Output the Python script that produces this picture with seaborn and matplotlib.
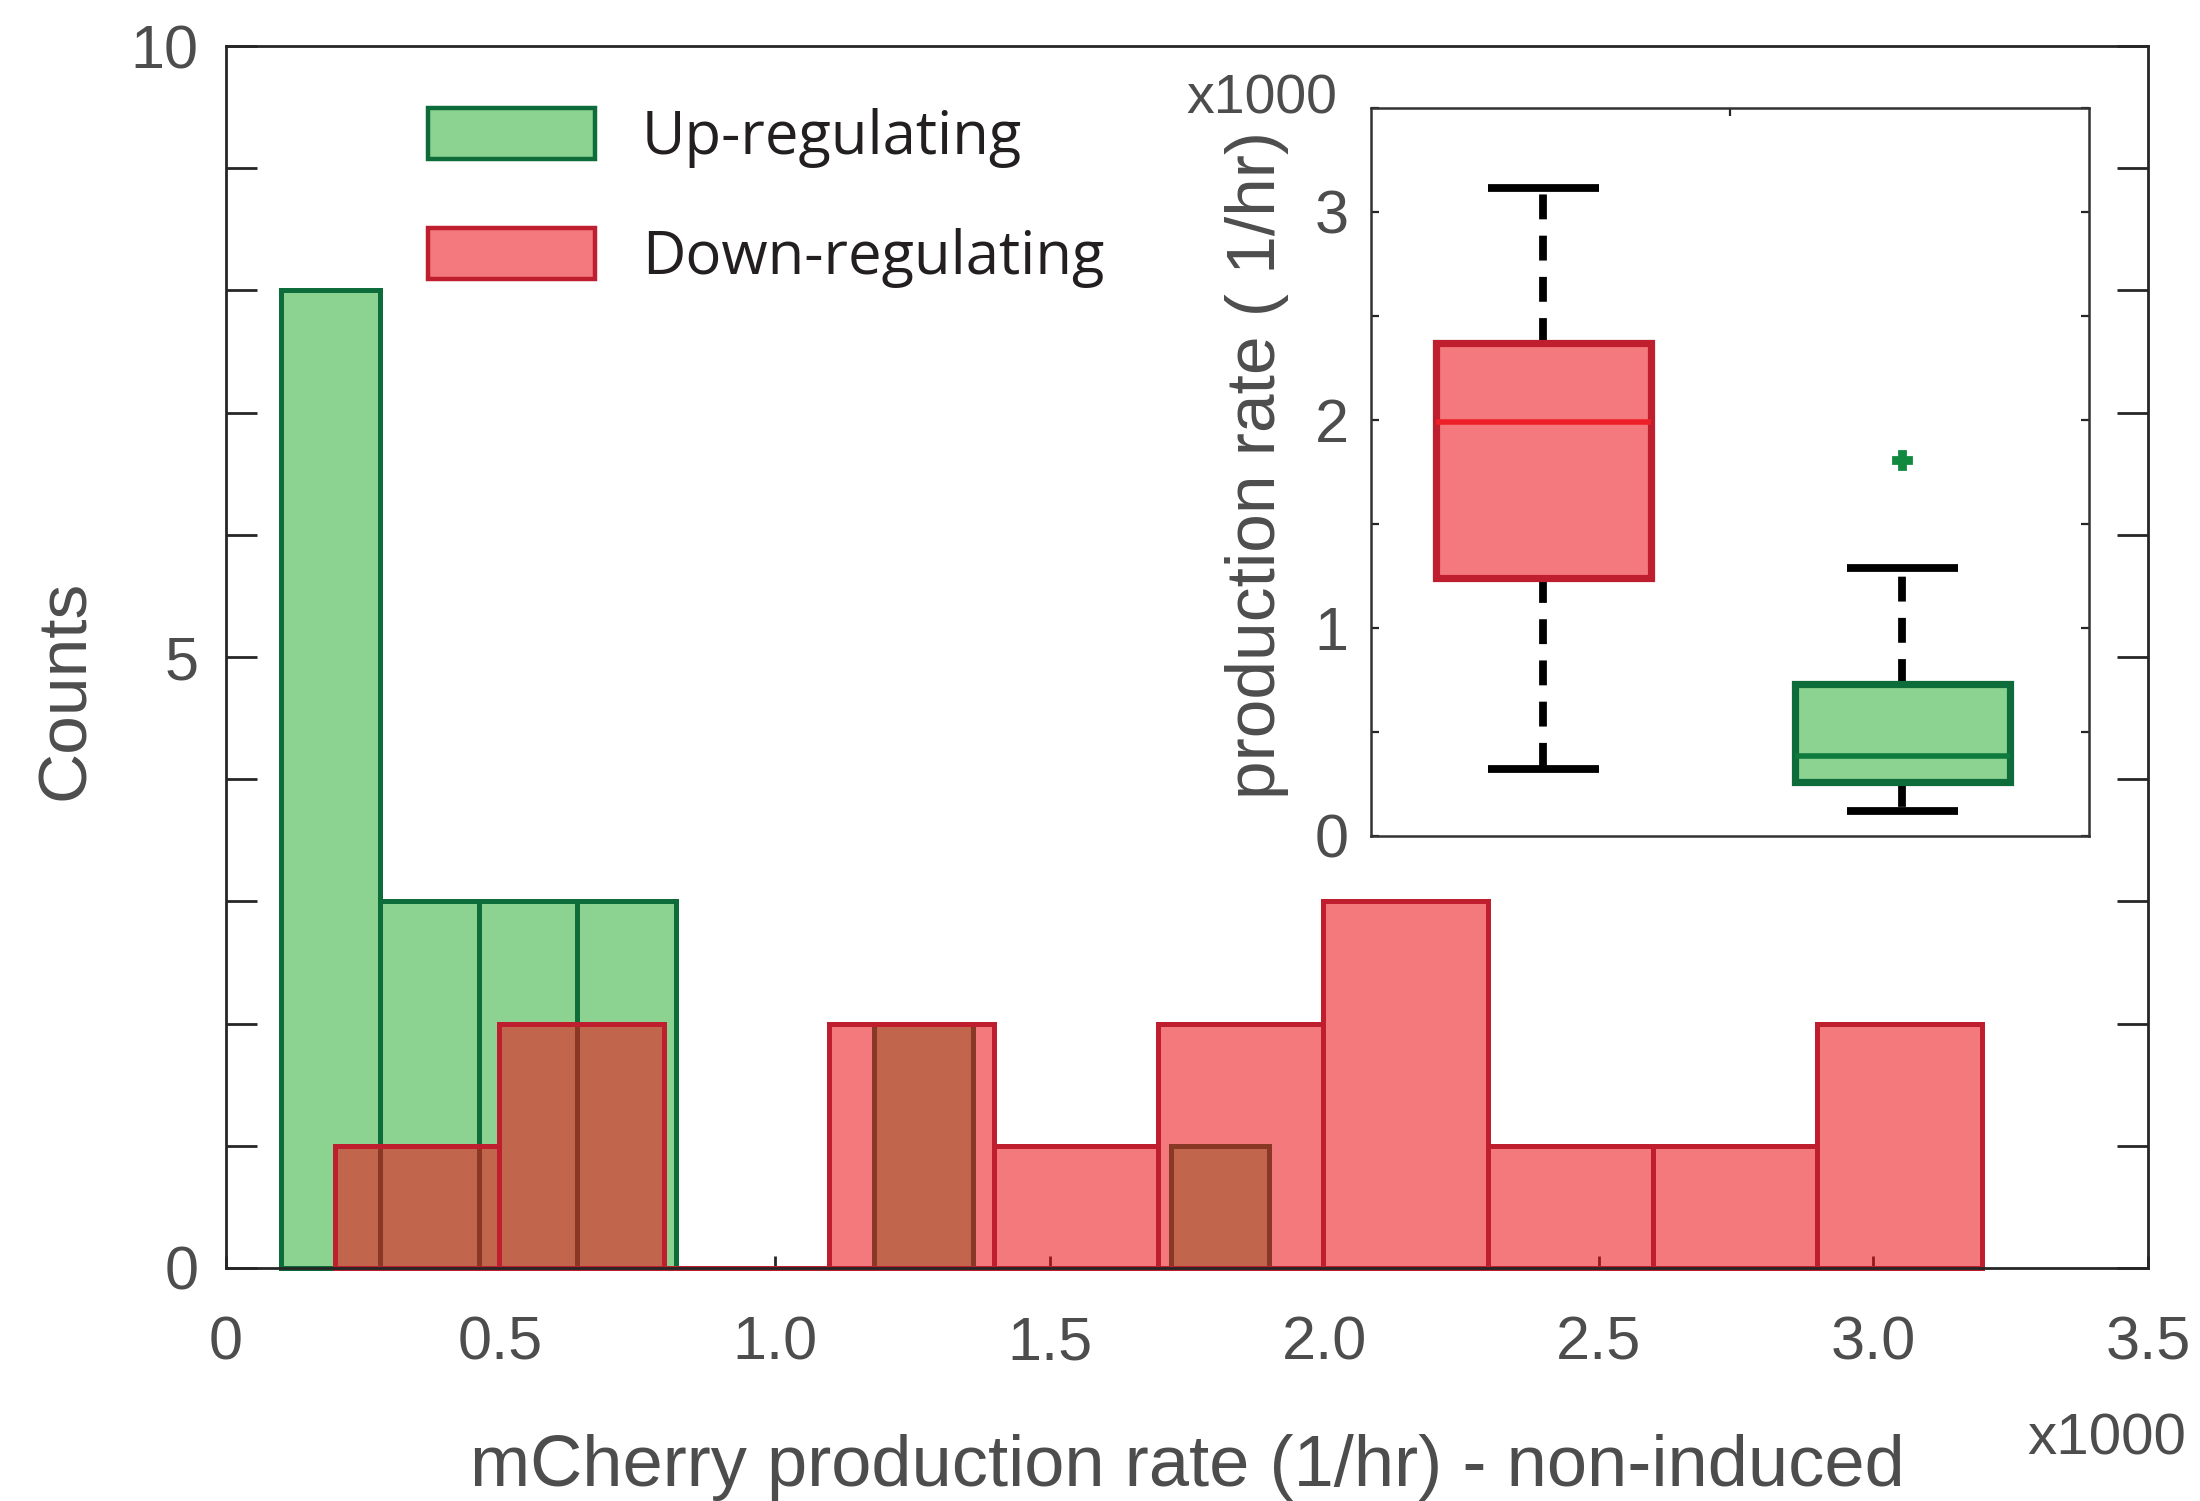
import numpy as np
import matplotlib
matplotlib.use("Agg")
import matplotlib.pyplot as plt
import seaborn as sns
from matplotlib.patches import Patch

# ---- histogram data: bin edges (1/hr) and counts ----
up_edges = [100, 280, 460, 640, 820, 1000, 1180, 1360, 1540, 1720, 1900]
up_counts = [8, 3, 3, 3, 0, 0, 2, 0, 0, 1]
down_edges = [198, 498, 798, 1098, 1398, 1698, 1998, 2298, 2598, 2898, 3198]
down_counts = [1, 2, 0, 2, 1, 2, 3, 1, 1, 2]

x_ticks = [0, 500, 1000, 1500, 2000, 2500, 3000, 3500]
x_ticklabels = ["0", "0.5", "1.0", "1.5", "2.0", "2.5", "3.0", "3.5"]
y_ticklabels = ["0", "", "", "", "", "5", "", "", "", "", "10"]

# ---- box summaries (x1000, 1/hr) ----
box_names = ["Down-regulating", "Up-regulating"]
box_whislo = [0.32, 0.12]
box_q1 = [1.24, 0.26]
box_med = [1.99, 0.385]
box_q3 = [2.37, 0.73]
box_whishi = [3.115, 1.29]
box_fliers = [[], [1.81]]

# ---- colours ----
green_fill = "#8CD392"
green_edge = "#0E6B3A"
red_fill_alpha = (236 / 255, 16 / 255, 24 / 255, 0.56)
red_fill = "#F4797E"
red_edge = "#BE1E2D"
red_median = "#EE2027"
green_median = "#0F7A3E"
label_grey = "#4D4D4D"
axis_dark = "#262626"

sns.set_theme(style="ticks")
plt.rcParams["font.family"] = ["Liberation Sans", "DejaVu Sans"]
plt.rcParams["axes.edgecolor"] = axis_dark

fig = plt.figure(figsize=(11, 7.505), dpi=200)
ax = fig.add_axes([0.10273, 0.15523, 0.87364, 0.81412])


def draw_hist(edges, counts, face, edge, lw):
    centers = [(a + b) / 2 for a, b in zip(edges[:-1], edges[1:])]
    n0 = len(ax.patches)
    sns.histplot(x=centers, weights=counts, bins=edges, ax=ax, stat="count")
    for p in ax.patches[n0:]:
        p.set_facecolor(face)
        p.set_edgecolor(edge)
        p.set_linewidth(lw)
        p.set_alpha(None)
        p.set_clip_on(False)


draw_hist(up_edges, up_counts, green_fill, green_edge, 1.8)
draw_hist(down_edges, down_counts, red_fill_alpha, red_edge, 1.8)

ax.set_xlim(0, 3500)
ax.set_ylim(0, 10)
ax.set_xticks(x_ticks)
ax.set_xticklabels(x_ticklabels)
ax.set_yticks(range(11))
ax.set_yticklabels(y_ticklabels)
ax.tick_params(axis="y", which="both", direction="in", length=11, width=1.0,
               left=True, right=True, color=axis_dark, labelsize=22,
               labelcolor=label_grey, pad=10)
ax.tick_params(axis="x", direction="in", length=4.3, width=1.0, bottom=True,
               top=False, color=axis_dark, labelsize=22, labelcolor=label_grey,
               pad=17)
for s in ax.spines.values():
    s.set_visible(True)
    s.set_linewidth(1.0)
    s.set_color(axis_dark)

ax.set_xlabel("mCherry production rate (1/hr) - non-induced", fontsize=26,
              color=label_grey, va="center")
ax.xaxis.set_label_coords(0.5, -0.163)
ax.set_ylabel("Counts", fontsize=25, color=label_grey, va="center")
ax.yaxis.set_label_coords(-0.0835, 0.473)

fig.text(0.9936, 0.0413, "x1000", fontsize=21, color=label_grey,
         ha="right", va="center")

# legend
handles = [
    Patch(facecolor=green_fill, edgecolor=green_edge, linewidth=1.6, label="Up-regulating"),
    Patch(facecolor=red_fill, edgecolor=red_edge, linewidth=1.6, label="Down-regulating"),
]
ax.legend(handles=handles, loc="upper left", bbox_to_anchor=(0.1051, 0.9495),
          frameon=False, borderpad=0, borderaxespad=0, handlelength=2.8,
          handleheight=0.94, handletextpad=0.78, labelspacing=1.0,
          prop={"family": ["Open Sans", "DejaVu Sans"], "size": 21.5},
          labelcolor="#231F20")

# ---- inset box plot ----
axi = fig.add_axes([0.62318, 0.44304, 0.32636, 0.48501])
axi.set_zorder(5)
axi.set_facecolor("white")
stats = [dict(label=n, whislo=lo, q1=a, med=m, q3=b, whishi=hi, fliers=f)
         for n, lo, a, m, b, hi, f in zip(box_names, box_whislo, box_q1, box_med,
                                          box_q3, box_whishi, box_fliers)]
bp = axi.bxp(stats, positions=[1, 2], widths=0.6, patch_artist=True,
             showfliers=True, capwidths=0.31,
             whiskerprops=dict(color="black", linewidth=2.8,
                               linestyle=(0, (3.2, 2.1)), solid_capstyle="butt",
                               dash_capstyle="butt"),
             capprops=dict(color="black", linewidth=2.8, solid_capstyle="butt"),
             flierprops=dict(marker="P", markersize=6.5, markerfacecolor="#118A3F",
                             markeredgecolor="#118A3F"))
for box, med, face, edge, mc in zip(bp["boxes"], bp["medians"],
                                    [red_fill, green_fill], [red_edge, green_edge],
                                    [red_median, green_median]):
    box.set_facecolor(face)
    box.set_edgecolor(edge)
    box.set_linewidth(2.6)
    box.set_zorder(3)
    med.set_color(mc)
    med.set_linewidth(2.0)
    med.set_zorder(4)

axi.set_xlim(0.52, 2.52)
axi.set_ylim(0, 3.5)
axi.set_xticks([1.52])
axi.set_xticklabels([])
axi.tick_params(axis="x", direction="in", length=3, width=0.8, top=True,
                bottom=False, labeltop=False, labelbottom=False, color=axis_dark)
axi.set_yticks(np.arange(0, 3.51, 0.5))
axi.set_yticklabels(["0", "", "1", "", "2", "", "3", ""])
axi.tick_params(axis="y", direction="in", length=3, width=0.8, left=True,
                right=True, color=axis_dark, labelsize=22, labelcolor=label_grey,
                pad=8)
for s in axi.spines.values():
    s.set_visible(True)
    s.set_linewidth(0.9)
    s.set_color("#333333")
axi.set_ylabel("production rate ( 1/hr)", fontsize=25, color=label_grey, va="center")
axi.yaxis.set_label_coords(-0.159, 0.509)
fig.text(0.5736, 0.9334, "x1000", fontsize=20, color=label_grey,
         ha="center", va="center")

fig.savefig("out.png", dpi=200)
